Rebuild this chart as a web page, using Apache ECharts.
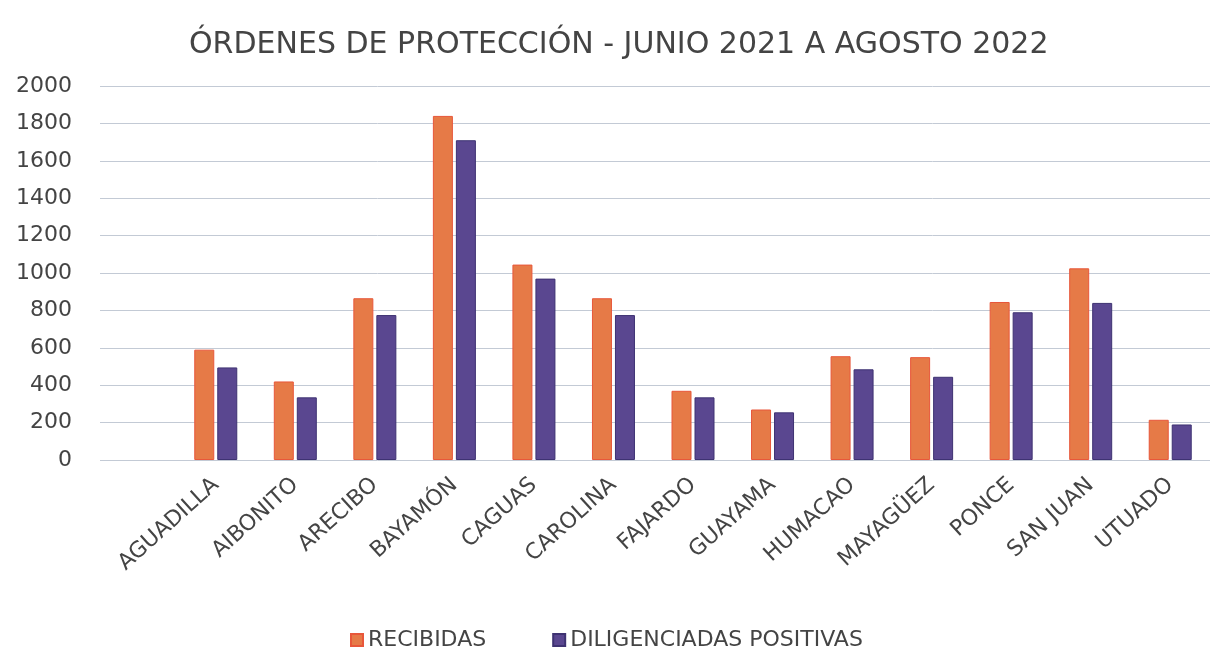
<!DOCTYPE html>
<html>
<head>
<meta charset="utf-8">
<script src="https://cdn.jsdelivr.net/npm/echarts@6/dist/echarts.min.js"></script>
<style>
  html, body { margin: 0; padding: 0; background: #fff; }
  #echarts { width: 1210px; height: 658px; }
</style>
</head>
<body>
<div id="echarts"></div>
<script>
var categories = ['AGUADILLA', 'AIBONITO', 'ARECIBO', 'BAYAMÓN', 'CAGUAS', 'CAROLINA', 'FAJARDO',
  'GUAYAMA', 'HUMACAO', 'MAYAGÜEZ', 'PONCE', 'SAN JUAN', 'UTUADO'];
var recibidas = [590, 420, 865, 1840, 1045, 865, 370, 270, 555, 550, 845, 1025, 215];
var diligenciadas = [495, 335, 775, 1710, 970, 775, 335, 255, 485, 445, 790, 840, 190];
var yTicks = [0, 200, 400, 600, 800, 1000, 1200, 1400, 1600, 1800, 2000];

var font = '"DejaVu Sans", sans-serif';
var textColor = '#444';
var myChart = echarts.init(document.getElementById('echarts'));
var option = {
  animation: false,
  title: {
    text: 'ÓRDENES DE PROTECCIÓN - JUNIO 2021 A AGOSTO 2022',
    left: 184,
    top: 25,
    textStyle: { fontFamily: font, fontSize: 30, fontWeight: 'normal', color: textColor }
  },
  legend: {
    bottom: 2,
    left: 345,
    itemWidth: 12,
    itemHeight: 12,
    itemGap: 66,
    icon: 'rect',
    textStyle: { fontFamily: font, fontSize: 22, color: textColor },
    data: ['RECIBIDAS', 'DILIGENCIADAS POSITIVAS']
  },
  grid: [
    { left: 100, right: 0, top: 86, bottom: 198 },
    { left: 176, right: 0, top: 86, bottom: 198 }
  ],
  xAxis: [
    { gridIndex: 0, type: 'value', show: false, min: 0, max: 1 },
    {
      gridIndex: 1,
      type: 'category',
      data: categories,
      axisLine: { show: false },
      axisTick: { show: false },
      axisLabel: {
        rotate: 42,
        margin: 22,
        fontFamily: font,
        fontSize: 22,
        color: textColor
      }
    }
  ],
  yAxis: [
    {
      gridIndex: 0,
      type: 'value',
      min: yTicks[0],
      max: yTicks[yTicks.length - 1],
      interval: 200,
      axisLine: { show: false },
      axisTick: { show: false },
      axisLabel: {
        margin: 28,
        fontFamily: font,
        fontSize: 22,
        color: textColor,
        formatter: function (v) { return String(v); }
      },
      splitLine: { lineStyle: { color: '#c3cad5', width: 1 } }
    },
    {
      gridIndex: 1,
      type: 'value',
      min: yTicks[0],
      max: yTicks[yTicks.length - 1],
      interval: 200,
      show: false,
      splitLine: { show: false }
    }
  ],
  series: [
    {
      name: 'RECIBIDAS',
      type: 'bar',
      xAxisIndex: 1,
      yAxisIndex: 1,
      data: recibidas,
      barWidth: 20,
      barGap: '15%',
      itemStyle: { color: '#e67a47', borderColor: '#e8573a', borderWidth: 1 }
    },
    {
      name: 'DILIGENCIADAS POSITIVAS',
      type: 'bar',
      xAxisIndex: 1,
      yAxisIndex: 1,
      data: diligenciadas,
      barWidth: 20,
      itemStyle: { color: '#5a4790', borderColor: '#3e3272', borderWidth: 1 }
    }
  ]
};
myChart.setOption(option);
</script>
</body>
</html>
